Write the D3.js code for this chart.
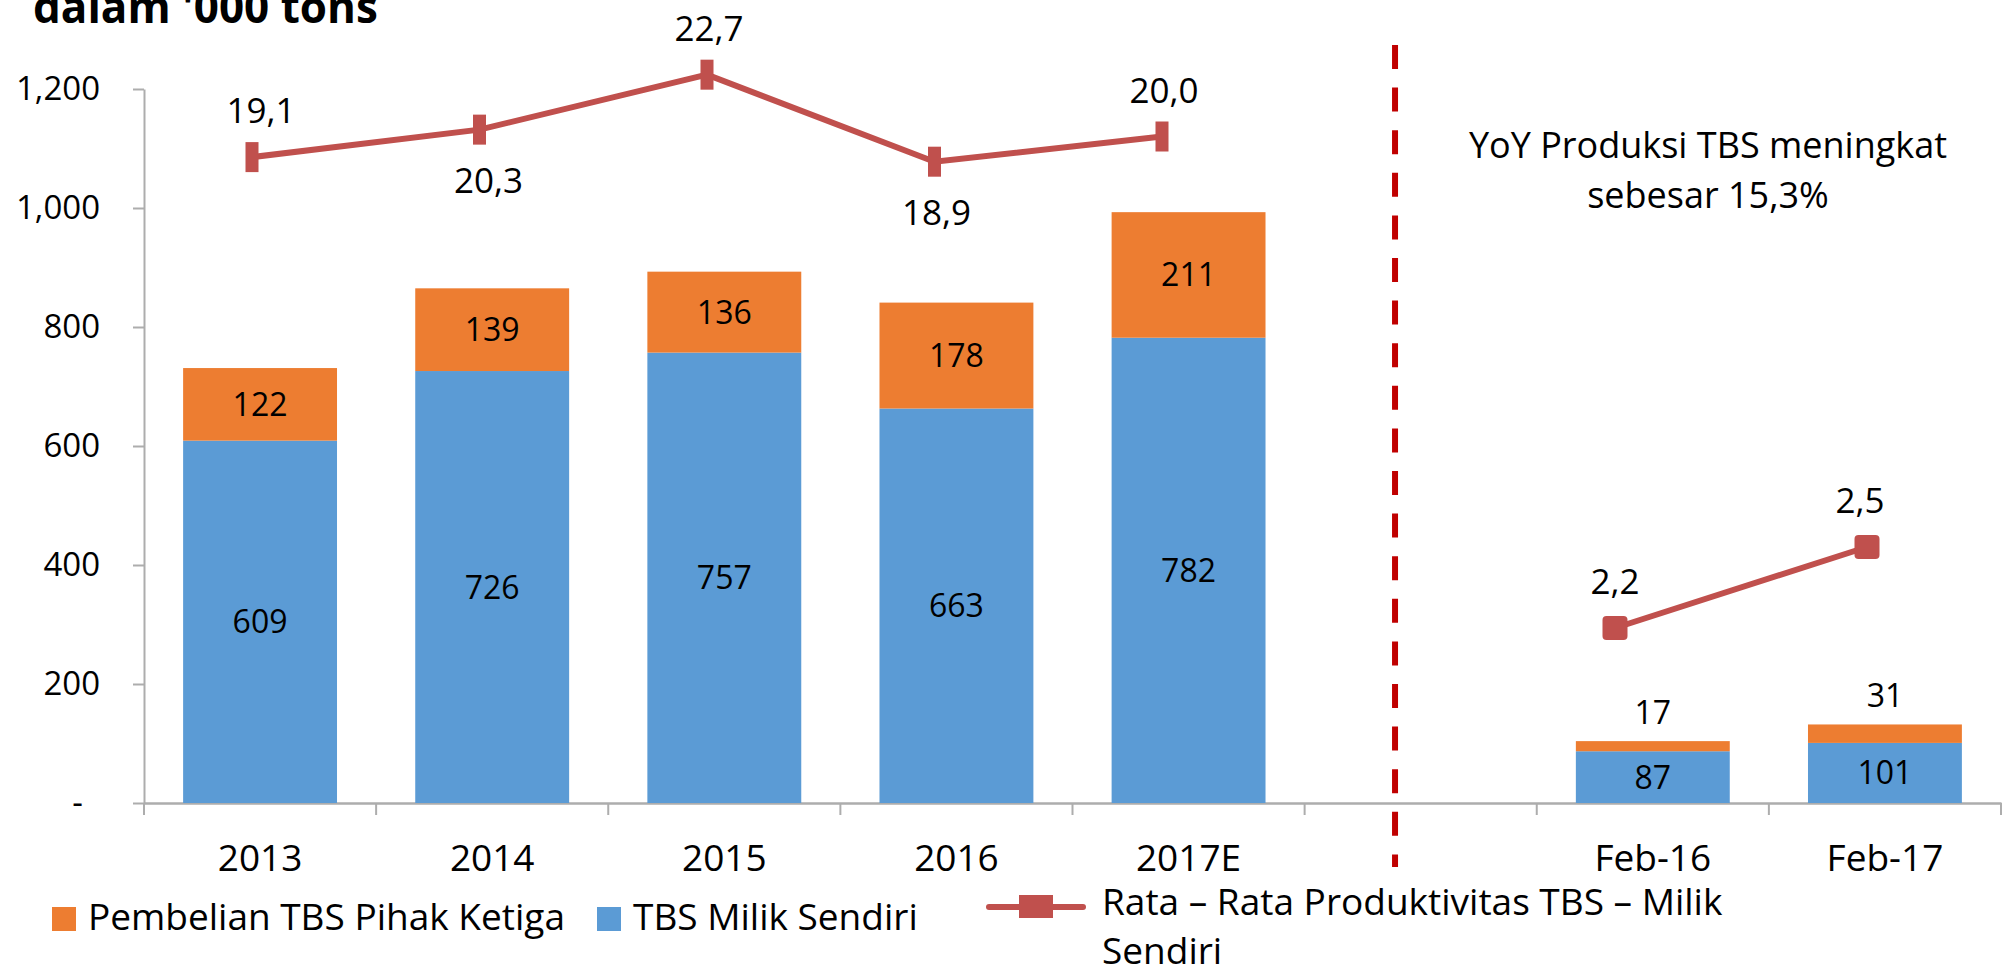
<!DOCTYPE html>
<html>
<head>
<meta charset="utf-8">
<script src="https://cdn.jsdelivr.net/npm/d3@7/dist/d3.min.js"></script>
<style>
  body { margin: 0; background: #fff; }
  svg text { font-family: 'Open Sans', sans-serif; fill: #000; }
</style>
</head>
<body>
<svg id="chart" width="2003" height="970"></svg>
<script>
// categories on the x axis (a blank slot sits between the two groups)
const yearCats  = ['2013', '2014', '2015', '2016', '2017E'];
const monthCats = ['Feb-16', 'Feb-17'];

// TBS Milik Sendiri ('000 tons)
const ownYear  = [609, 726, 757, 663, 782];
const ownMonth = [87, 101];

// Pembelian TBS Pihak Ketiga ('000 tons)
const buyYear  = [122, 139, 136, 178, 211];
const buyMonth = [17, 31];

// Rata-rata produktivitas TBS milik sendiri
const prodYear  = [19.1, 20.3, 22.7, 18.9, 20.0];
const prodMonth = [2.2, 2.5];

const yTicks = [0, 200, 400, 600, 800, 1000, 1200];

const blue = '#5B9BD5', orange = '#ED7D31', red = '#C0504D', grey = '#ADADAD';
const comma1 = v => d3.format('.1f')(v).replace('.', ',');

const svg = d3.select('#chart');

// title (cut at the top as in the slide)
svg.append('text')
  .attr('x', 33).attr('y', 23)
  .attr('font-size', 44).attr('font-weight', 'bold')
  .text("dalam '000 tons");

// scales
const x = d3.scaleBand()
  .domain([...yearCats, 'gap', ...monthCats])
  .range([144, 2001])
  .paddingInner(0.337)
  .paddingOuter(0.1685);

const y = d3.scaleLinear().domain([0, 1200]).range([803, 89]);

// y axis
const yAxis = svg.append('g')
  .attr('transform', `translate(${x.range()[0]},0)`)
  .call(d3.axisLeft(y)
    .tickValues(yTicks)
    .tickSize(11)
    .tickPadding(33)
    .tickSizeOuter(0)
    .tickFormat(d => d === 0 ? '-\u00a0\u00a0' : d3.format(',')(d)));
yAxis.selectAll('text').attr('font-size', 33).attr('font-family', "'Open Sans', sans-serif");
yAxis.selectAll('line,path').attr('stroke', grey).attr('stroke-width', 2);

// x axis
const xAxis = svg.append('g')
  .attr('transform', `translate(0,${y(0)})`)
  .call(d3.axisBottom(x)
    .tickSize(0)
    .tickPadding(42)
    .tickSizeOuter(0)
    .tickFormat(d => d === 'gap' ? '' : d));
xAxis.selectAll('text').attr('font-size', 37).attr('font-family', "'Open Sans', sans-serif");
xAxis.select('.domain').attr('stroke', grey).attr('stroke-width', 2.5);

// tick marks between categories
const bounds = d3.range(x.domain().length + 1).map(i => x.range()[0] + i * x.step());
xAxis.selectAll('.bound')
  .data(bounds)
  .enter().append('line')
    .attr('class', 'bound')
    .attr('x1', d => d).attr('x2', d => d)
    .attr('y1', 0).attr('y2', 12)
    .attr('stroke', grey).attr('stroke-width', 2);

// stacked bars
const rows = [
  ...yearCats.map((c, i) => ({ cat: c, own: ownYear[i], buy: buyYear[i] })),
  ...monthCats.map((c, i) => ({ cat: c, own: ownMonth[i], buy: buyMonth[i] }))
];
const series = d3.stack().keys(['own', 'buy'])(rows);
const colour = { own: blue, buy: orange };

const layer = svg.selectAll('.layer')
  .data(series)
  .enter().append('g')
    .attr('class', 'layer')
    .attr('fill', s => colour[s.key]);

layer.selectAll('rect')
  .data(s => s)
  .enter().append('rect')
    .attr('x', d => x(d.data.cat))
    .attr('y', d => y(d[1]))
    .attr('width', x.bandwidth())
    .attr('height', d => y(d[0]) - y(d[1]));

layer.selectAll('text')
  .data(s => s)
  .enter().append('text')
    .attr('text-anchor', 'middle')
    .attr('font-size', 32)
    .attr('x', d => x(d.data.cat) + x.bandwidth() / 2)
    .attr('y', d => {
      const h = y(d[0]) - y(d[1]);
      return h < 40 ? y(d[1]) - 17 : (y(d[0]) + y(d[1])) / 2;
    })
    .attr('dy', d => (y(d[0]) - y(d[1])) < 40 ? 0 : '0.36em')
    .style('fill', '#000')
    .text(d => d[1] - d[0]);

// divider between yearly and monthly data
const divX = x('gap') + x.bandwidth() / 3;
svg.append('line')
  .attr('x1', divX).attr('x2', divX)
  .attr('y1', 45).attr('y2', 867)
  .attr('stroke', '#C00000')
  .attr('stroke-width', 6)
  .attr('stroke-dasharray', '24,18.6');

// productivity lines (overlay with their own scales)
const xLineYear  = d3.scalePoint().domain(yearCats).range([252, 1162]);
const yLineYear  = d3.scaleLinear().domain([15, 25]).range([251, 22]);
const xLineMonth = d3.scalePoint().domain(monthCats).range([1615, 1867]);
const yLineMonth = d3.scaleLinear().domain([2, 3]).range([682, 412]);

const yearPts  = yearCats.map((c, i) => ({ px: xLineYear(c), py: yLineYear(prodYear[i]), v: prodYear[i] }));
const monthPts = monthCats.map((c, i) => ({ px: xLineMonth(c), py: yLineMonth(prodMonth[i]), v: prodMonth[i] }));

const line = d3.line().x(d => d.px).y(d => d.py);

[yearPts, monthPts].forEach(pts => {
  svg.append('path')
    .datum(pts)
    .attr('fill', 'none')
    .attr('stroke', red)
    .attr('stroke-width', 6)
    .attr('stroke-linecap', 'round')
    .attr('d', line);
});

// markers: the yearly ones are narrow, the monthly ones square
svg.selectAll('.mk-year')
  .data(yearPts)
  .enter().append('rect')
    .attr('class', 'mk-year')
    .attr('x', d => d.px - 6.5).attr('y', d => d.py - 15)
    .attr('width', 13).attr('height', 30)
    .attr('fill', red);

svg.selectAll('.mk-month')
  .data(monthPts)
  .enter().append('rect')
    .attr('class', 'mk-month')
    .attr('x', d => d.px - 12.5).attr('y', d => d.py - 12)
    .attr('width', 25).attr('height', 24)
    .attr('rx', 4)
    .attr('fill', red);

// line value labels
const yearBelow = [false, true, false, true, false];
svg.selectAll('.lbl-year')
  .data(yearPts)
  .enter().append('text')
    .attr('class', 'lbl-year')
    .attr('text-anchor', 'middle')
    .attr('font-size', 35)
    .attr('x', (d, i) => d.px + (i < 2 ? 9 : 2))
    .attr('y', (d, i) => yearBelow[i] ? d.py + 63 : d.py - 34)
    .text(d => comma1(d.v));

svg.selectAll('.lbl-month')
  .data(monthPts)
  .enter().append('text')
    .attr('class', 'lbl-month')
    .attr('text-anchor', 'middle')
    .attr('font-size', 35)
    .attr('x', (d, i) => d.px - (i ? 7 : 0))
    .attr('y', d => d.py - 34)
    .text(d => comma1(d.v));

// annotation
const note = svg.append('text')
  .attr('text-anchor', 'middle')
  .attr('font-size', 36);
note.append('tspan').attr('x', 1708).attr('y', 158).text('YoY Produksi TBS meningkat');
note.append('tspan').attr('x', 1708).attr('y', 208).text('sebesar 15,3%');

// legend
const legend = svg.append('g');
const swatches = [
  { label: 'Pembelian TBS Pihak Ketiga', fill: orange, x: 52 },
  { label: 'TBS Milik Sendiri', fill: blue, x: 597 }
];
swatches.forEach(s => {
  legend.append('rect')
    .attr('x', s.x).attr('y', 907)
    .attr('width', 24).attr('height', 24)
    .attr('fill', s.fill);
  legend.append('text')
    .attr('x', s.x + 36).attr('y', 930)
    .attr('font-size', 37)
    .text(s.label);
});

legend.append('line')
  .attr('x1', 989).attr('x2', 1083)
  .attr('y1', 907).attr('y2', 907)
  .attr('stroke', red).attr('stroke-width', 6)
  .attr('stroke-linecap', 'round');
legend.append('rect')
  .attr('x', 1019).attr('y', 895)
  .attr('width', 34).attr('height', 23)
  .attr('fill', red);
const lineLabel = legend.append('text').attr('font-size', 37);
lineLabel.append('tspan').attr('x', 1102).attr('y', 915).text('Rata \u2013 Rata Produktivitas TBS \u2013 Milik');
lineLabel.append('tspan').attr('x', 1102).attr('y', 964).text('Sendiri');
</script>
</body>
</html>
